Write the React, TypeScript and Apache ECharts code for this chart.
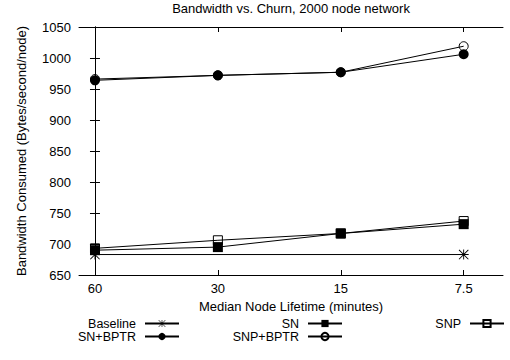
import React, { useEffect, useRef } from "react";
import * as echarts from "echarts";

const categories = ["60", "30", "15", "7.5"];
const baselineIdx = [0, 3];
const baseline = [683, 683];
const sn = [690, 695, 717, 732];
const snp = [693, 706, 717, 737];
const snBptr = [964, 972, 977, 1006];
const snpBptr = [966, 972, 977, 1019];

const yMin = 650;
const yMax = 1050;
const yStep = 50;

const FONT = "'Liberation Sans', Arial, Helvetica, sans-serif";
const ASTERISK =
  "path://M4.55 0H5.45V10H4.55Z M0 4.55H10V5.45H0Z M0 0.65L0.65 0L10 9.35L9.35 10Z M9.35 0L10 0.65L0.65 10L0 9.35Z";

const toPoints = (vals: number[], xs?: number[]) => vals.map((v, i) => [xs ? xs[i] : i, v]);

export default function App() {
  const ref = useRef<HTMLDivElement>(null);

  useEffect(() => {
    if (!ref.current) return;
    const chart = echarts.init(ref.current, null, { renderer: "svg" });
    const idx = categories.map((_, i) => i);
    const mkSeries = (
      name: string,
      data: number[][],
      symbol: string,
      size: number,
      filled: boolean
    ) => ({
      name,
      type: "line",
      data,
      symbol,
      symbolSize: size,
      showAllSymbol: true,
      lineStyle: { color: "#000", width: 1 },
      itemStyle: filled
        ? { color: "#000", borderColor: "#000", borderWidth: 0 }
        : { color: "none", borderColor: "#000", borderWidth: 1 },
      emphasis: { disabled: true },
      z: 2,
    });
    const xCommon = {
      type: "value",
      min: -0.13,
      max: 3.32,
      axisLine: { show: true, lineStyle: { color: "#000", width: 1 } },
      splitLine: { show: false },
    };
    const yCommon = {
      type: "value",
      min: yMin,
      max: yMax,
      interval: yStep,
      axisLine: { show: true, lineStyle: { color: "#000", width: 1 } },
      splitLine: { show: false },
      axisTick: { show: true, inside: true, length: 5, lineStyle: { color: "#000" } },
    };
    const legendCommon = {
      orient: "vertical",
      align: "right",
      itemWidth: 34,
      itemHeight: 9,
      itemGap: 0,
      top: 317,
      padding: 0,
      textStyle: { fontFamily: FONT, fontSize: 12.5, color: "#000", lineHeight: 13, padding: [0, 4, 0, 0] },
      selectedMode: false,
    };
    chart.setOption({
      animation: false,
      backgroundColor: "#fff",
      textStyle: { fontFamily: FONT },
      title: {
        text: "Bandwidth vs. Churn, 2000 node network",
        left: 291,
        textAlign: "center",
        top: 2,
        padding: 0,
        textStyle: { fontFamily: FONT, fontSize: 13, fontWeight: "normal", color: "#000" },
      },
      grid: { left: 79, right: 7, top: 27, bottom: 85, containLabel: false },
      xAxis: [
        {
          ...xCommon,
          position: "bottom",
          name: "Median Node Lifetime (minutes)",
          nameLocation: "middle",
          nameGap: 25,
          nameTextStyle: { fontFamily: FONT, fontSize: 13, color: "#000" },
          axisTick: { show: true, inside: true, length: 5, customValues: idx, lineStyle: { color: "#000" } },
          axisLabel: {
            show: true,
            customValues: idx,
            margin: 7,
            fontFamily: FONT,
            fontSize: 13,
            color: "#000",
            formatter: (v: number) => categories[Math.round(v)] ?? "",
          },
        },
        {
          ...xCommon,
          position: "top",
          axisTick: { show: true, inside: true, length: 5, customValues: idx, lineStyle: { color: "#000" } },
          axisLabel: { show: false },
        },
      ],
      yAxis: [
        {
          ...yCommon,
          position: "left",
          name: "Bandwidth Consumed (Bytes/second/node)",
          nameLocation: "middle",
          nameGap: 51,
          nameTextStyle: { fontFamily: FONT, fontSize: 13, color: "#000" },
          axisLabel: {
            show: true,
            margin: 8,
            fontFamily: FONT,
            fontSize: 13,
            color: "#000",
            formatter: (v: number) => String(v),
          },
        },
        {
          ...yCommon,
          position: "right",
          axisLabel: { show: false },
        },
      ],
      legend: [
        { ...legendCommon, right: 330, data: ["Baseline", "SN+BPTR"] },
        { ...legendCommon, right: 167, data: ["SN", "SNP+BPTR"] },
        { ...legendCommon, right: 5, data: ["SNP"] },
      ],
      series: [
        mkSeries("Baseline", toPoints(baseline, baselineIdx), ASTERISK, 10, true),
        mkSeries("SN", toPoints(sn), "rect", 10, true),
        mkSeries("SNP", toPoints(snp), "rect", 9, false),
        mkSeries("SN+BPTR", toPoints(snBptr), "circle", 10, true),
        mkSeries("SNP+BPTR", toPoints(snpBptr), "circle", 9, false),
      ],
    });
    return () => chart.dispose();
  }, []);

  return (
    <div
      ref={ref}
      style={{ position: "fixed", left: 0, top: 0, width: 510, height: 360, background: "#fff" }}
    />
  );
}
